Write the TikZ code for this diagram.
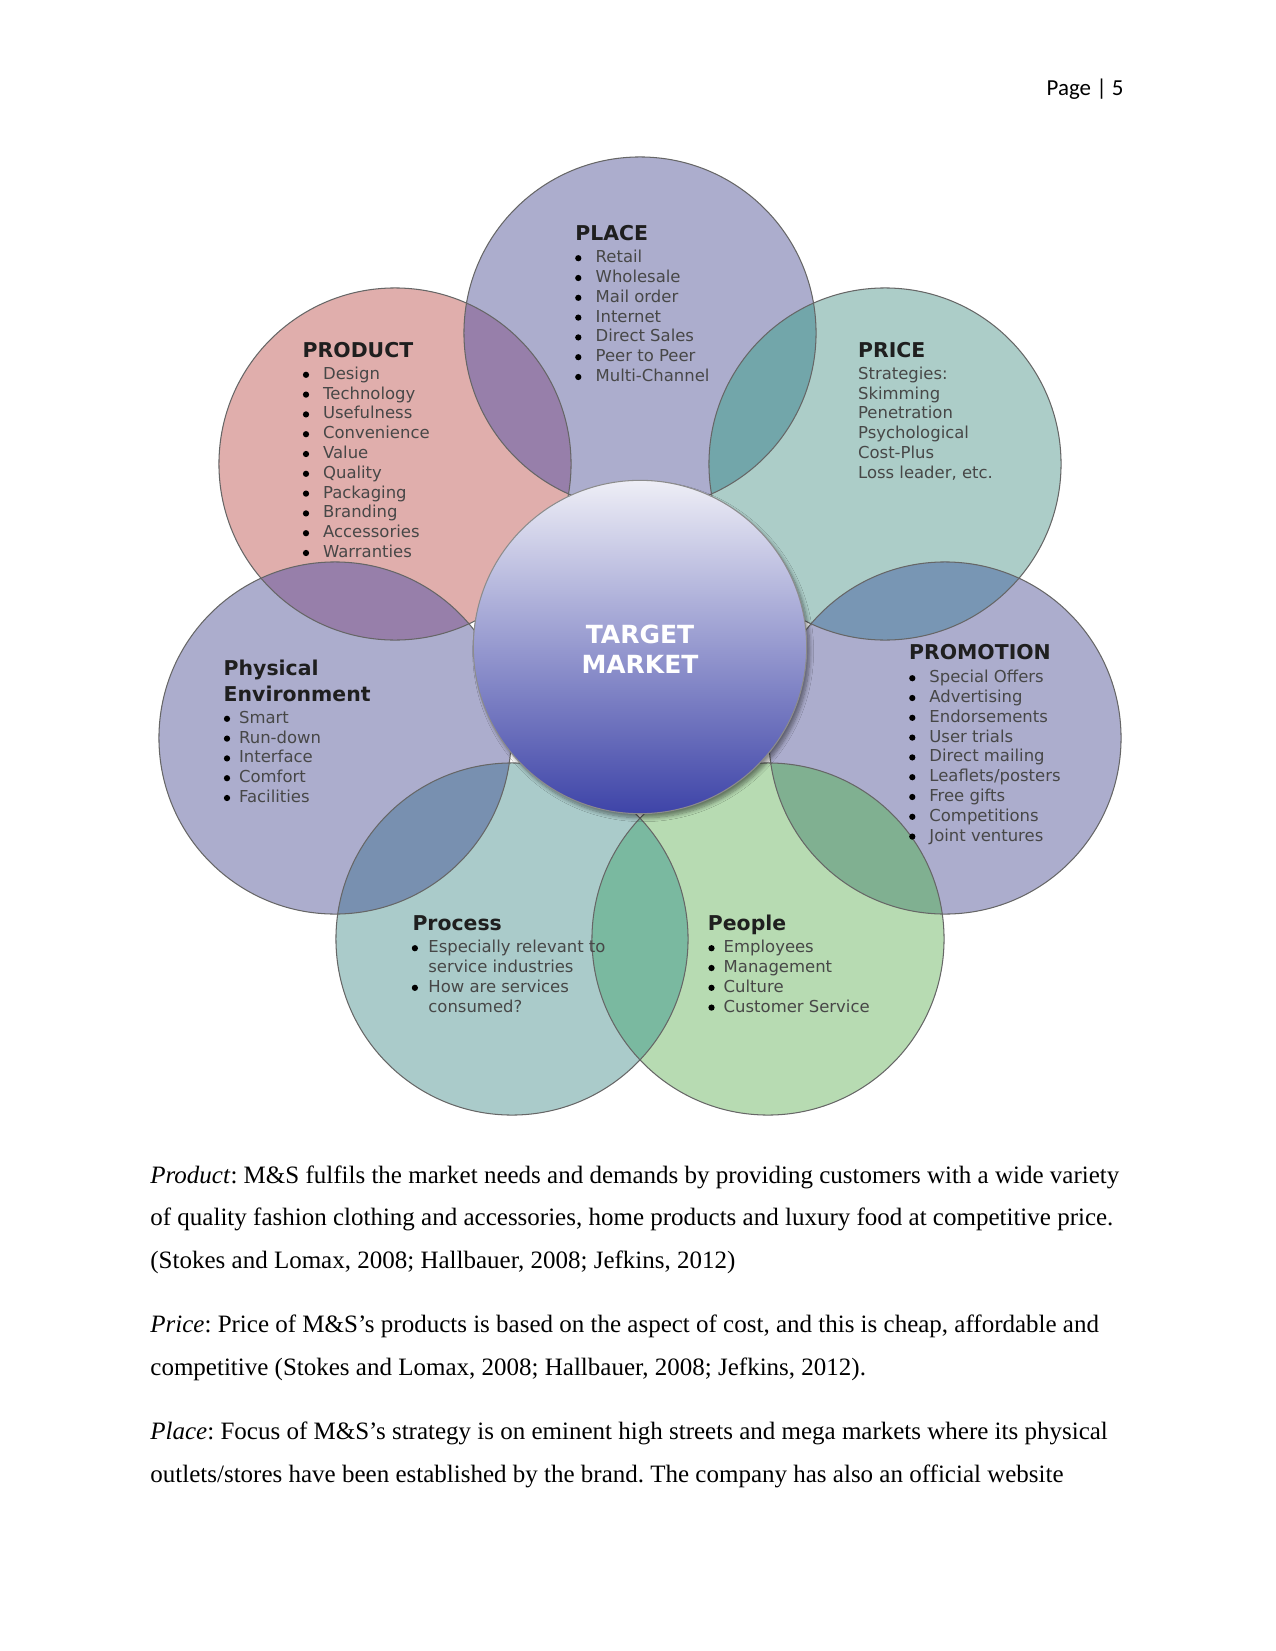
\documentclass[tikz,border=0pt]{standalone}
\usepackage{fontspec}
\setmainfont{Liberation Serif}
\newfontfamily\dejavu{DejaVu Sans}
\newfontfamily\carlito{Carlito}
\usetikzlibrary{shadows.blur}
\frenchspacing
\definecolor{cplace}{HTML}{ACADCD}
\definecolor{cprod}{HTML}{E0AEAC}
\definecolor{cprice}{HTML}{ACCDC8}
\definecolor{cphys}{HTML}{ACADCD}
\definecolor{cpromo}{HTML}{ACADCD}
\definecolor{cproc}{HTML}{AACBCA}
\definecolor{cpeople}{HTML}{B7DBB2}
\definecolor{lpurple}{HTML}{977FAA}
\definecolor{lteal}{HTML}{72A6AA}
\definecolor{lblue}{HTML}{7896B4}
\definecolor{lblue2}{HTML}{7890B0}
\definecolor{lgreen}{HTML}{80B091}
\definecolor{lgreen2}{HTML}{7AB9A0}
\definecolor{tmtop}{HTML}{EEEEF6}
\definecolor{tmbot}{HTML}{3E44A8}
\tikzset{
  hd/.style={font=\dejavu\bfseries\fontsize{9.8}{11}\selectfont, text=black!88, anchor=base west, inner sep=0pt},
  itm/.style={font=\dejavu\fontsize{7.9}{9.5}\selectfont, text=black!72, anchor=base west, inner sep=0pt},
  bodytxt/.style={font=\fontsize{12}{14}\selectfont, text=black, anchor=base west, inner sep=0pt},
  ring/.style={draw=black!60, line width=0.5pt},
  tmtext/.style={font=\dejavu\bfseries\fontsize{12}{14}\selectfont, text=white, anchor=base, inner sep=0pt},
  bul/.style={fill=black},
}
\newcommand\blist[5]{%
  \foreach \itx [count=\i] in {#5} {%
    \pgfmathsetmacro\yy{#4+19.8*(\i-1)}%
    \fill[bul] (#2,\yy-4.5) circle[radius=1.5pt];%
    \node[itm] (#1\i) at (#3,\yy) {\itx};%
  }}
\newcommand\plist[4]{%
  \foreach \itx [count=\i] in {#4} {%
    \pgfmathsetmacro\yy{#3+19.8*(\i-1)}%
    \node[itm] (#1\i) at (#2,\yy) {\itx};%
  }}
\def\R{84.5pt}
\begin{document}
\begin{tikzpicture}[x=0.48pt,y=-0.48pt]
\useasboundingbox[fill=white] (0,0) rectangle (1275,1651);
% centres
\coordinate (cPlace) at (640,333);
\coordinate (cProd) at (395,464);
\coordinate (cPrice) at (885,464);
\coordinate (cPhys) at (335,738);
\coordinate (cPromo) at (945,738);
\coordinate (cProc) at (512,939);
\coordinate (cPeople) at (768,939);
% fills
\fill[cplace] (cPlace) circle[radius=\R];
\fill[cprod] (cProd) circle[radius=\R];
\fill[cprice] (cPrice) circle[radius=\R];
\fill[cphys] (cPhys) circle[radius=\R];
\fill[cpromo] (cPromo) circle[radius=\R];
\fill[cproc] (cProc) circle[radius=\R];
\fill[cpeople] (cPeople) circle[radius=\R];
% lenses
\begin{scope}\clip (cPlace) circle[radius=\R]; \fill[lpurple] (cProd) circle[radius=\R];\end{scope}
\begin{scope}\clip (cPlace) circle[radius=\R]; \fill[lteal] (cPrice) circle[radius=\R];\end{scope}
\begin{scope}\clip (cProd) circle[radius=\R]; \fill[lpurple] (cPhys) circle[radius=\R];\end{scope}
\begin{scope}\clip (cPrice) circle[radius=\R]; \fill[lblue] (cPromo) circle[radius=\R];\end{scope}
\begin{scope}\clip (cPhys) circle[radius=\R]; \fill[lblue2] (cProc) circle[radius=\R];\end{scope}
\begin{scope}\clip (cPromo) circle[radius=\R]; \fill[lgreen] (cPeople) circle[radius=\R];\end{scope}
\begin{scope}\clip (cProc) circle[radius=\R]; \fill[lgreen2] (cPeople) circle[radius=\R];\end{scope}
% outlines
\foreach \c in {cPlace,cProd,cPrice,cPhys,cPromo,cProc,cPeople}
  \draw[ring] (\c) circle[radius=\R];
% centre
\node[circle, minimum size=160pt, inner sep=0pt, draw=black!45, line width=0.5pt,
      top color=tmtop, bottom color=tmbot,
      blur shadow={shadow xshift=1.5pt, shadow yshift=-2pt, shadow blur steps=8, shadow opacity=45}]
      (tm) at (640,647) {};
\node[tmtext] (tm1) at (640,643.3) {TARGET};
\node[tmtext] (tm2) at (640,673.3) {MARKET};
% PLACE
\node[hd] (hPlace) at (575,240.7) {PLACE};
\blist{pl}{578.3}{595.3}{262.7}{Retail,Wholesale,Mail order,Internet,Direct Sales,Peer to Peer,Multi-Channel}
% PRODUCT
\node[hd] (hProd) at (302.3,357.3) {PRODUCT};
\blist{pd}{306}{322.7}{379.3}{Design,Technology,Usefulness,Convenience,Value,Quality,Packaging,Branding,Accessories,Warranties}
% PRICE
\node[hd] (hPrice) at (857.7,357.3) {PRICE};
\plist{pr}{857.7}{379.3}{Strategies:,Skimming,Penetration,Psychological,Cost-Plus,{Loss leader, etc.}}
% PHYSICAL ENVIRONMENT
\node[hd] (hPhys1) at (223.3,675) {Physical};
\node[hd] (hPhys2) at (223.3,701) {Environment};
\blist{ph}{227}{238.7}{723.3}{Smart,Run-down,Interface,Comfort,Facilities}
% PROMOTION
\node[hd] (hPromo) at (908.7,659.3) {PROMOTION};
\blist{pm}{912.3}{929}{682.7}{Special Offers,Advertising,Endorsements,User trials,Direct mailing,Leaflets/posters,Free gifts,Competitions,Joint ventures}
% PROCESS
\node[hd] (hProc) at (412.1,930) {Process};
\fill[bul] (414.9,948.2) circle[radius=1.5pt];
\node[itm] (ps1) at (428,952.7) {Especially relevant to};
\node[itm] (ps2) at (428,972.5) {service industries};
\fill[bul] (414.9,987.8) circle[radius=1.5pt];
\node[itm] (ps3) at (428,992.3) {How are services};
\node[itm] (ps4) at (428,1012.1) {consumed?};
% PEOPLE
\node[hd] (hPeople) at (707.5,930) {People};
\blist{pe}{711.5}{723.3}{952.7}{Employees,Management,Culture,Customer Service}
% header
\node[font=\carlito\fontsize{11}{13}\selectfont, anchor=base east, inner sep=0pt] (pg) at (1124,96) {Page | 5};
% body text
\node[bodytxt] (b1) at (150,1183) {\textit{Product}: M\&S fulfils the market needs and demands by providing customers with a wide variety};
\node[bodytxt] (b2) at (150,1225.7) {of quality fashion clothing and accessories, home products and luxury food at competitive price.};
\node[bodytxt] (b3) at (150,1268.4) {(Stokes and Lomax, 2008; Hallbauer, 2008; Jefkins, 2012)};
\node[bodytxt] (b4) at (150,1332.7) {\textit{Price}: Price of M\&S’s products is based on the aspect of cost, and this is cheap, affordable and};
\node[bodytxt] (b5) at (150,1375.4) {competitive (Stokes and Lomax, 2008; Hallbauer, 2008; Jefkins, 2012).};
\node[bodytxt] (b6) at (150,1439.3) {\textit{Place}: Focus of M\&S’s strategy is on eminent high streets and mega markets where its physical};
\node[bodytxt] (b7) at (150,1482) {outlets/stores have been established by the brand. The company has also an official website};
\end{tikzpicture}
\end{document}
